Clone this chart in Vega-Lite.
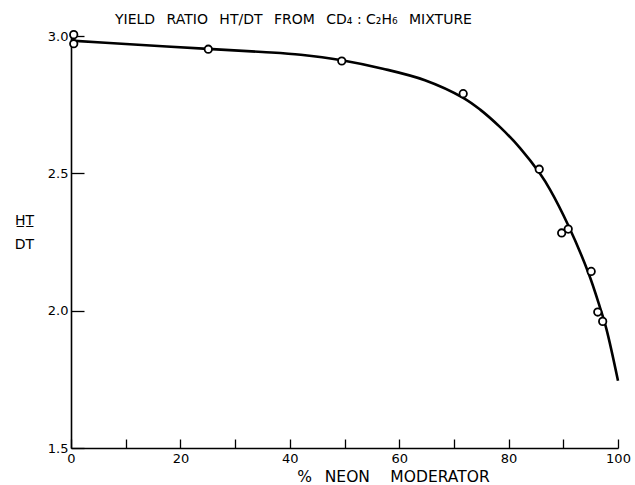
{
  "$schema": "https://vega.github.io/schema/vega-lite/v6.json",
  "width": 547,
  "height": 412,
  "autosize": "none",
  "padding": {"left": 71, "top": 36, "right": 17, "bottom": 37},
  "background": "white",
  "title": {
    "text": "YIELD\u2002 RATIO\u2002 HT/DT\u2002 FROM\u2002 CD₄ : C₂H₆\u2002 MIXTURE",
    "anchor": "start",
    "frame": "group",
    "dx": 44,
    "offset": 0,
    "font": "DejaVu Sans",
    "fontSize": 14,
    "fontWeight": "normal",
    "color": "black"
  },
  "config": {"view": {"stroke": null}, "font": "DejaVu Sans"},
  "datasets": {
    "curve": [
      {"x": 0, "y": 2.983},
      {"x": 10, "y": 2.971},
      {"x": 25, "y": 2.953},
      {"x": 35, "y": 2.942},
      {"x": 42, "y": 2.932},
      {"x": 49.5, "y": 2.912},
      {"x": 57, "y": 2.881},
      {"x": 64.7, "y": 2.839},
      {"x": 71.7, "y": 2.775},
      {"x": 74.8, "y": 2.732},
      {"x": 78.4, "y": 2.669},
      {"x": 82.1, "y": 2.592},
      {"x": 85.7, "y": 2.5},
      {"x": 87.6, "y": 2.44},
      {"x": 90.9, "y": 2.311},
      {"x": 94.6, "y": 2.137},
      {"x": 96.7, "y": 2.012},
      {"x": 97.9, "y": 1.932},
      {"x": 100, "y": 1.745}
    ],
    "points": [
      {"x": 0.5, "y": 3.005},
      {"x": 0.5, "y": 2.972},
      {"x": 25.1, "y": 2.952},
      {"x": 49.5, "y": 2.909},
      {"x": 71.7, "y": 2.79},
      {"x": 85.6, "y": 2.515},
      {"x": 89.7, "y": 2.283},
      {"x": 90.9, "y": 2.297},
      {"x": 95.1, "y": 2.143},
      {"x": 96.3, "y": 1.995},
      {"x": 97.2, "y": 1.961}
    ]
  },
  "layer": [
    {
      "data": {"name": "curve"},
      "mark": {"type": "line", "interpolate": "catmull-rom", "color": "black", "strokeWidth": 2.6, "clip": false},
      "encoding": {
        "x": {
          "field": "x",
          "type": "quantitative",
          "scale": {"domain": [0, 100], "nice": false},
          "axis": {
            "values": [0, 10, 20, 30, 40, 50, 60, 70, 80, 90, 100],
            "labelExpr": "datum.value % 20 === 0 ? datum.label : ''",
            "grid": false,
            "domainColor": "black",
            "domainWidth": 1.6,
            "tickColor": "black",
            "tickWidth": 1.3,
            "tickSize": -9,
            "labelFontSize": 13,
            "labelColor": "black",
            "labelPadding": 13,
            "labelFlush": false,
            "title": "%\u2002 NEON\u2002\u2002 MODERATOR",
            "titleFontSize": 15.5,
            "titleFontWeight": "normal",
            "titleColor": "black",
            "titleX": 322,
            "titlePadding": 4
          }
        },
        "y": {
          "field": "y",
          "type": "quantitative",
          "scale": {"domain": [1.5, 3.0], "nice": false, "zero": false},
          "axis": {
            "values": [1.5, 2.0, 2.5, 3.0],
            "format": ".1f",
            "grid": false,
            "domainColor": "black",
            "domainWidth": 1.6,
            "tickColor": "black",
            "tickWidth": 1.3,
            "tickSize": -13,
            "labelFontSize": 13,
            "labelColor": "black",
            "labelPadding": 16,
            "title": ["H̲T̲", "DT"],
            "titleAngle": 0,
            "titleFontSize": 14,
            "titleFontWeight": "normal",
            "titleColor": "black",
            "titleAlign": "center",
            "titleBaseline": "middle",
            "titleLineHeight": 24,
            "titleX": -47,
            "titleY": 184
          }
        }
      }
    },
    {
      "data": {"name": "points"},
      "mark": {"type": "point", "shape": "circle", "filled": true, "fill": "white", "stroke": "black", "strokeWidth": 1.8, "size": 55, "opacity": 1, "clip": false},
      "encoding": {
        "x": {"field": "x", "type": "quantitative"},
        "y": {"field": "y", "type": "quantitative"}
      }
    }
  ]
}
